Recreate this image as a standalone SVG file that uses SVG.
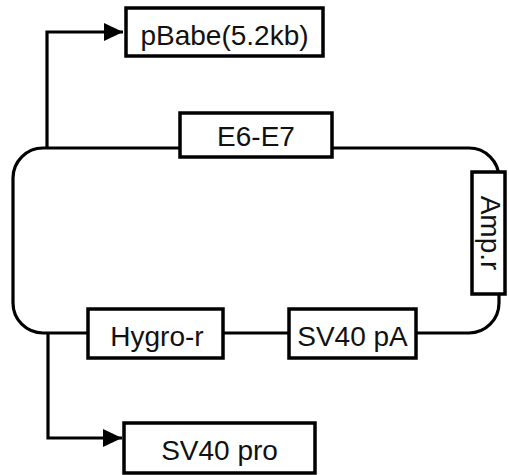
<svg xmlns="http://www.w3.org/2000/svg" width="509" height="475" viewBox="0 0 509 475">
<style>
.box{fill:#fff;stroke:#000;stroke-width:3.5}
.ln{fill:none;stroke:#000;stroke-width:3.2}
.t{font-family:"Liberation Sans",Arial,sans-serif;font-size:28px;fill:#111;text-anchor:middle}
</style>
<defs>
<marker id="ah" markerUnits="userSpaceOnUse" markerWidth="20" markerHeight="20" viewBox="0 0 20 20" refX="19" refY="10" orient="auto">
<path d="M0,1 L19,10 L0,19 Z" fill="#000"/>
</marker>
</defs>
<rect width="509" height="475" fill="#fff"/>
<g id="connectors">
<path class="ln" d="M45,148 H469 A30,30 0 0 1 499,178 V303 A30,30 0 0 1 469,333 H43 A30,30 0 0 1 13,303 V178 A30,30 0 0 1 43,148 Z"/>
<path class="ln" d="M47,148 V32 H123" marker-end="url(#ah)"/>
<path class="ln" d="M48,333 V438 H122" marker-end="url(#ah)"/>
</g>
<g id="pBabe"><rect class="box" x="126" y="8" width="197" height="48"/><text class="t" x="224.5" y="45">pBabe(5.2kb)</text></g>
<g id="E6E7"><rect class="box" x="180" y="113" width="152" height="44"/><text class="t" x="256" y="146">E6-E7</text></g>
<g id="ampr"><rect class="box" x="472" y="172" width="33" height="122"/><text class="t" transform="translate(481,233) rotate(90)" x="0" y="0">Amp.r</text></g>
<g id="hygro"><rect class="box" x="88" y="309" width="135" height="49"/><text class="t" x="157" y="346">Hygro-r</text></g>
<g id="sv40pa"><rect class="box" x="289" y="309" width="127" height="49"/><text class="t" x="352.5" y="346">SV40 pA</text></g>
<g id="sv40pro"><rect class="box" x="124" y="423" width="191" height="50"/><text class="t" x="219.5" y="460">SV40 pro</text></g>
</svg>
